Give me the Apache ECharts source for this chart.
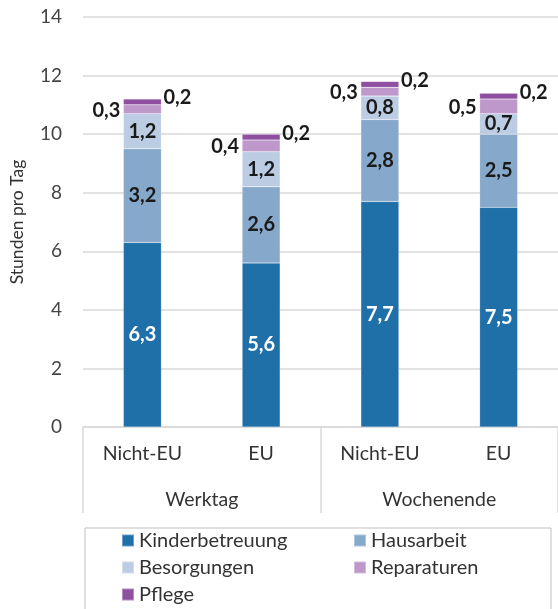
<!DOCTYPE html>
<html><head><meta charset="utf-8">
<script src="https://cdn.jsdelivr.net/npm/echarts@6/dist/echarts.min.js"></script>
<style>html,body{margin:0;padding:0;background:#fff}#c{width:558px;height:609px}</style>
</head><body><div id="c"></div>
<script>
const categories = ['Nicht-EU', 'EU', 'Nicht-EU', 'EU'];
const groups = ['Werktag', 'Wochenende'];
const seriesNames = ['Kinderbetreuung', 'Hausarbeit', 'Besorgungen', 'Reparaturen', 'Pflege'];
const kinderbetreuung = [6.3, 5.6, 7.7, 7.5];
const hausarbeit = [3.2, 2.6, 2.8, 2.5];
const besorgungen = [1.2, 1.2, 0.8, 0.7];
const reparaturen = [0.3, 0.4, 0.3, 0.5];
const pflege = [0.2, 0.2, 0.2, 0.2];
const yTicks = [0, 2, 4, 6, 8, 10, 12, 14];

const colors = ['#1F6FA8', '#86A8CB', '#BCCCE3', '#BE98CA', '#8E4FA0'];
const FONT = 'Lato, "Open Sans", sans-serif';
const fmt = p => String(p.value).replace('.', ',');
const baseLabel = { show: true, fontFamily: FONT, fontSize: 20, fontWeight: 'bold', formatter: fmt };

const dataSets = [kinderbetreuung, hausarbeit, besorgungen, reparaturen, pflege];
const labelCfg = [
  Object.assign({}, baseLabel, { position: 'inside', color: '#fff' }),
  Object.assign({}, baseLabel, { position: 'inside', color: '#1a1a1a' }),
  Object.assign({}, baseLabel, { position: 'inside', color: '#1a1a1a' }),
  Object.assign({}, baseLabel, { position: 'left', distance: 3, color: '#1a1a1a', offset: [0, 1] }),
  Object.assign({}, baseLabel, { position: 'right', distance: 2, color: '#1a1a1a', offset: [0, -4] })
];

const series = seriesNames.map((n, i) => ({
  name: n, type: 'bar', stack: 'total', barWidth: 38,
  itemStyle: { color: colors[i], borderColor: 'rgba(255,255,255,0.35)', borderWidth: 0.5 },
  label: labelCfg[i],
  data: dataSets[i]
}));

const chart = echarts.init(document.getElementById('c'));
chart.setOption({
  animation: false,
  grid: { left: 83, top: 17, width: 480, height: 410, containLabel: false },
  xAxis: [
    { type: 'category', data: categories, position: 'bottom',
      axisLine: { show: true, lineStyle: { color: '#d9d9d9', width: 1.5 } },
      axisTick: { show: false },
      axisLabel: { fontFamily: FONT, fontSize: 19.5, color: '#333', margin: 17 } },
    { type: 'category', data: groups, position: 'bottom',
      axisLine: { show: false },
      axisTick: { show: true, length: 86, lineStyle: { color: '#d9d9d9', width: 1.5 } },
      axisLabel: { fontFamily: FONT, fontSize: 19.5, color: '#333', margin: 63 } }
  ],
  yAxis: {
    type: 'value', min: yTicks[0], max: yTicks[yTicks.length - 1], interval: 2,
    name: 'Stunden pro Tag', nameLocation: 'middle', nameGap: 57,
    nameTextStyle: { fontFamily: FONT, fontSize: 17.5, color: '#333' },
    axisLine: { show: false }, axisTick: { show: false },
    axisLabel: { fontFamily: FONT, fontSize: 19, color: '#444', margin: 21 },
    splitLine: { lineStyle: { color: '#d9d9d9', width: 1.5 } }
  },
  legend: {
    left: 121, top: 529, width: 520, padding: 0, itemWidth: 12, itemHeight: 12, itemGap: 4,
    icon: 'rect', data: seriesNames,
    textStyle: { fontFamily: FONT, fontSize: 20, color: '#333', width: 210, lineHeight: 23, overflow: 'none' }
  },
  graphic: [{ type: 'rect', shape: { x: 85, y: 528, width: 466, height: 100 },
    style: { fill: 'none', stroke: '#bfbfbf', lineWidth: 1 } }],
  series: series
});
</script></body></html>
